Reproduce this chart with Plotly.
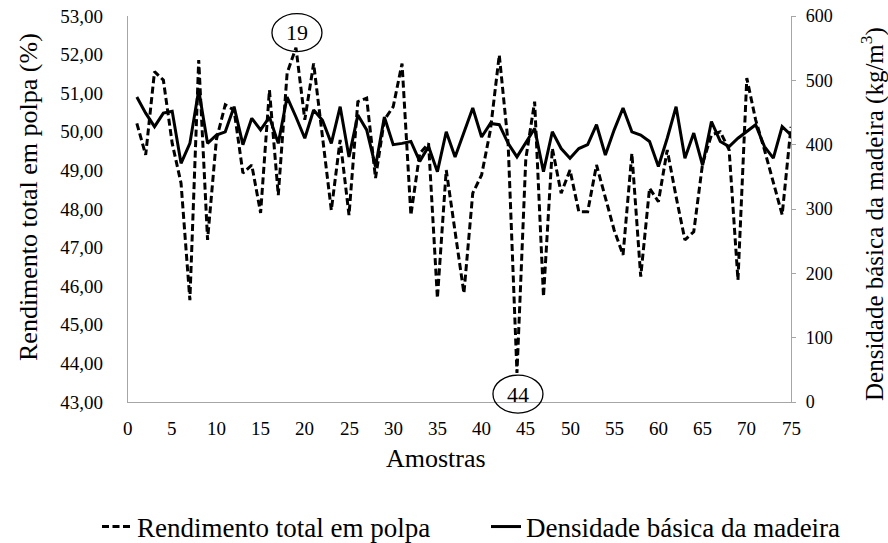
import plotly.graph_objects as go

# Sample numbers (1..75)
amostras = list(range(1, 76))

# Rendimento total em polpa (%) - left axis
rendimento = [
    50.22, 49.40, 51.56, 51.34, 49.70, 48.67, 45.64, 51.86, 47.20, 49.80,
    50.70, 50.56, 48.93, 49.14, 47.90, 51.08, 48.36, 51.52, 52.18, 50.31,
    51.77, 49.79, 47.97, 49.79, 47.84, 50.78, 50.87, 48.80, 50.31, 50.65,
    51.77, 47.84, 49.44, 49.70, 45.69, 49.01, 47.40, 45.82, 48.41, 48.88,
    50.05, 51.99, 49.70, 43.75, 49.30, 50.78, 45.73, 49.57, 48.41, 49.01,
    47.93, 47.93, 49.14, 48.30, 47.45, 46.81, 49.44, 46.25, 48.54, 48.19,
    49.53, 48.32, 47.20, 47.41, 49.18, 49.92, 50.00, 49.53, 46.16, 51.39,
    50.31, 49.53, 48.67, 47.85, 50.13,
]

# Densidade básica da madeira (kg/m3) - right axis
densidade = [
    474, 449, 428, 449, 452, 371, 402, 485, 402, 415,
    420, 459, 400, 441, 423, 443, 402, 474, 443, 410,
    454, 438, 402, 459, 381, 446, 423, 366, 443, 400,
    402, 405, 374, 397, 358, 420, 381, 418, 457, 412,
    433, 431, 402, 381, 402, 425, 358, 420, 394, 379,
    394, 400, 431, 384, 423, 457, 420, 415, 405, 366,
    410, 459, 379, 418, 368, 436, 405, 397, 410, 420,
    431, 397, 379, 428, 415,
]

# Axis tick values
x_ticks = list(range(0, 76, 5))
y1_ticks = list(range(43, 54))
y2_ticks = list(range(0, 601, 100))

# Highlighted samples (max and min yield)
destaques = [19, 44]

x_range = [0, 75]
y1_range = [43, 53]
y2_range = [0, 600]

serif = "Times New Roman"

W, H = 888, 543
ML, MR, MT, MB = 128, 97, 16, 141
PLOT_W = W - ML - MR
PLOT_H = H - MT - MB


def plot_frac(xp, yp):
    """Page pixel position -> fraction of the plot area."""
    return (xp - ML) / PLOT_W, (H - yp - MB) / PLOT_H


fig = go.Figure()
fig.add_trace(go.Scatter(
    x=amostras, y=rendimento, mode="lines",
    name="Rendimento total em polpa",
    line=dict(color="black", width=3, dash="7px,3.5px"),
    yaxis="y", legend="legend",
))
fig.add_trace(go.Scatter(
    x=amostras, y=densidade, mode="lines",
    name="Densidade básica da madeira",
    line=dict(color="black", width=3),
    yaxis="y2", legend="legend2",
))

# Ellipses with the sample number next to the extreme points
shapes = []
annotations = []
for s, dy_px in zip(destaques, [-15, 21]):
    val = rendimento[s - 1]
    px = (s - x_range[0]) / (x_range[1] - x_range[0])
    py = (val - y1_range[0]) / (y1_range[1] - y1_range[0])
    cy = py - dy_px / PLOT_H
    cx = px + 1 / PLOT_W
    hw = 25 / PLOT_W
    hh = 19 / PLOT_H
    shapes.append(dict(
        type="circle", xref="paper", yref="paper",
        x0=cx - hw, x1=cx + hw, y0=cy - hh, y1=cy + hh,
        line=dict(color="black", width=1.3), fillcolor="rgba(0,0,0,0)",
        layer="above",
    ))
    annotations.append(dict(
        x=cx, y=cy, xref="paper", yref="paper", text=str(s),
        xanchor="center", yanchor="middle",
        showarrow=False, font=dict(family=serif, size=22, color="black"),
    ))

# x tick labels, set a little further below the axis line
_, tick_y = plot_frac(0, 428)
for t in x_ticks:
    annotations.append(dict(
        x=t, xref="x", y=tick_y, yref="paper", text=str(t),
        showarrow=False, xanchor="center", yanchor="middle",
        font=dict(family=serif, size=19, color="black"),
    ))

# Axis titles
for text, (xp, yp), ang, size in [
    ("Amostras", (436, 458), 0, 26),
    ("Rendimento total em polpa (%)", (28, 197), -90, 26),
    ("Densidade básica da madeira (kg/m<sup>3</sup>)", (872, 214), -90, 25),
]:
    fx, fy = plot_frac(xp, yp)
    annotations.append(dict(
        x=fx, y=fy, xref="paper", yref="paper", text=text, textangle=ang,
        showarrow=False, xanchor="center", yanchor="middle",
        font=dict(family=serif, size=size, color="black"),
    ))

legenda_font = dict(family=serif, size=27, color="black")
leg_common = dict(
    orientation="h", xref="container", yref="container",
    xanchor="left", y=1 - 527 / H, yanchor="middle",
    font=legenda_font, bgcolor="rgba(0,0,0,0)",
)

fig.update_layout(
    width=W, height=H,
    margin=dict(l=ML, r=MR, t=MT, b=MB, autoexpand=False),
    paper_bgcolor="white", plot_bgcolor="white",
    separators=",.",
    font=dict(family=serif, color="black"),
    showlegend=True,
    legend=dict(x=97 / W, **leg_common),
    legend2=dict(x=486 / W, **leg_common),
    xaxis=dict(
        range=x_range, tickmode="array", tickvals=x_ticks,
        showgrid=False, zeroline=False, showline=True, linecolor="#a6a6a6",
        linewidth=1.3, automargin=False, ticks="", showticklabels=False,
    ),
    yaxis=dict(
        range=y1_range, tickmode="array", tickvals=y1_ticks,
        tickformat=".2f", showgrid=False, zeroline=False, showline=True,
        linecolor="#a6a6a6", linewidth=1.3, ticks="", automargin=False,
        tickfont=dict(family=serif, size=19, color="black"),
        ticklabelstandoff=20,
    ),
    yaxis2=dict(
        range=y2_range, tickmode="array", tickvals=y2_ticks,
        overlaying="y", side="right", showgrid=False, zeroline=False,
        showline=True, linecolor="#a6a6a6", linewidth=1.3, automargin=False,
        ticks="outside", ticklen=4, tickcolor="#a6a6a6",
        tickfont=dict(family=serif, size=18, color="black"),
        ticklabelstandoff=6,
    ),
    shapes=shapes,
    annotations=annotations,
)

fig.write_html("out.html")
